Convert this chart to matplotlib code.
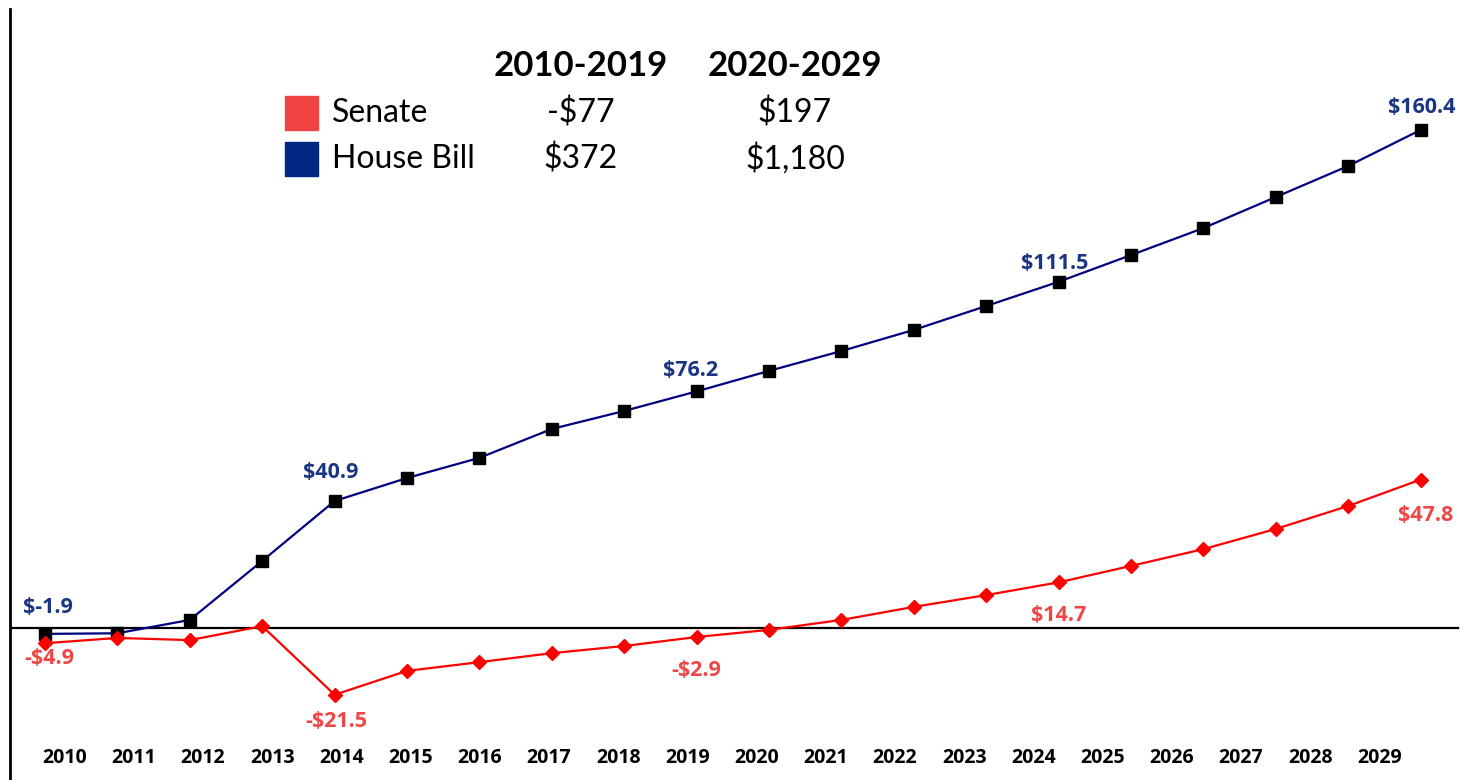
import matplotlib.pyplot as plt
from matplotlib.patches import Rectangle
import matplotlib.transforms as mtransforms

years = [str(y) for y in range(2010, 2030)]

# annual effect, $ billions
house = [-1.9, -1.7, 2.6, 21.6, 40.9, 48.3, 54.8, 64.1, 69.9, 76.2,
         82.8, 89.2, 96.0, 103.7, 111.5, 120.1, 128.8, 138.8, 148.8, 160.4]
senate = [-4.9, -3.2, -3.9, 0.6, -21.5, -13.8, -11.0, -8.1, -5.8, -2.9,
          -0.6, 2.6, 6.8, 10.6, 14.7, 20.0, 25.4, 31.9, 39.3, 47.8]

# ten-year totals shown in the key
periods = ["2010-2019", "2020-2029"]
senate_totals = ["-$77", "$197"]
house_totals = ["$372", "$1,180"]

# which points carry a value label, with pixel offsets
house_labels = {0: (3, 26), 4: (-4, 29), 9: (-6, 21), 14: (-4, 18), 19: (1, 22)}
senate_labels = {0: (4, -15), 4: (2, -27), 9: (0, -33), 14: (0, -33), 19: (5, -36)}

BLUE_LINE = "#000080"
RED_LINE = "#ff0000"
BLUE_TXT = "#1a3582"
RED_TXT = "#f04646"

W, H = 1461, 780
fig = plt.figure(figsize=(W / 100, H / 100), dpi=100)
ax = fig.add_axes([10 / W, 0, (W - 10) / W, (H - 9) / H])

x = list(range(len(years)))
ax.plot(x, house, color=BLUE_LINE, lw=1.6, marker="s", ms=8.5,
        mfc="black", mec="black", zorder=3)
ax.plot(x, senate, color=RED_LINE, lw=1.6, marker="D", ms=7.5,
        mfc=RED_LINE, mec=RED_LINE, zorder=3)

for i, (dx, dy) in house_labels.items():
    v = house[i]
    txt = f"$-{abs(v):.1f}" if v < 0 else f"${v:.1f}"
    ax.annotate(txt, (x[i], v), xytext=(dx, dy), textcoords="offset pixels",
                ha="center", va="center", color=BLUE_TXT, fontsize=15.5,
                fontweight="bold", family="Open Sans")
for i, (dx, dy) in senate_labels.items():
    v = senate[i]
    txt = f"-${abs(v):.1f}" if v < 0 else f"${v:.1f}"
    ax.annotate(txt, (x[i], v), xytext=(dx, dy), textcoords="offset pixels",
                ha="center", va="center", color=RED_TXT, fontsize=15.5,
                fontweight="bold", family="Open Sans")

ax.axhline(0, color="black", lw=1.6, zorder=2, xmax=(1458 - 10) / (W - 10))

# point spacing is 72.4 px, year labels run at 69.2 px from x=64.5
px_per_unit = 72.4
trans = mtransforms.blended_transform_factory(ax.transData, ax.transAxes)
for i, yr in enumerate(years):
    pos = (64.5 + 69.2 * i - 45) / px_per_unit
    ax.text(pos, 22 / (H - 9), yr, transform=trans, ha="center", va="center",
            fontsize=14, fontweight="bold", family="Open Sans")

ax.set_xlim((10 - 45) / px_per_unit, (W - 45) / px_per_unit)
scale = 3.105
ax.set_ylim(-(780 - 628) / scale, (628 - 9) / scale)
ax.set_xticks([])
ax.set_yticks([])
for side in ["top", "right", "bottom"]:
    ax.spines[side].set_visible(False)
ax.spines["left"].set_linewidth(2)

# key table in figure pixels
def fx(p):
    return p / W

def fy(p):
    return 1 - p / H

key_font = "Lato"
for px, label in zip([581, 795], periods):
    fig.text(fx(px), fy(66), label, ha="center", va="center", fontsize=25,
             fontweight="bold", family=key_font)
rows = [("Senate", "#ef4444", senate_totals, 113),
        ("House Bill", "#002882", house_totals, 159)]
for name, col, totals, py in rows:
    fig.patches.append(Rectangle((fx(285), fy(py + 17)), fx(33), 34 / H,
                                 transform=fig.transFigure, color=col))
    fig.text(fx(332), fy(py), name, ha="left", va="center", fontsize=23,
             family=key_font)
    for px, t in zip([581, 795], totals):
        fig.text(fx(px), fy(py), t, ha="center", va="center", fontsize=23,
                 family=key_font)

fig.savefig("out.png", dpi=100)
